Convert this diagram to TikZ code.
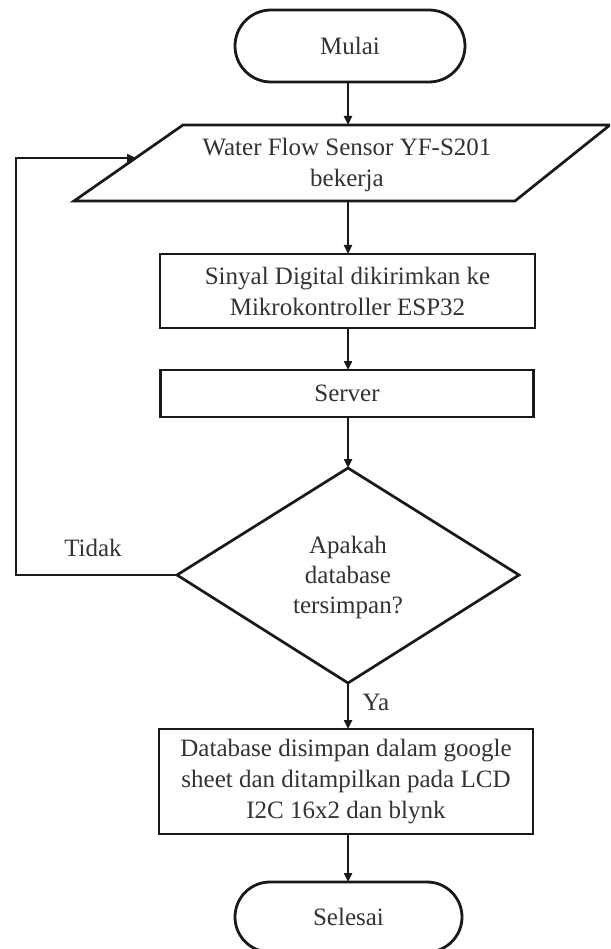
\documentclass[tikz,border=0pt]{standalone}
\usepackage{fontspec}
\setmainfont{Liberation Serif}
\usetikzlibrary{shapes.misc,arrows.meta}
\begin{document}
\begin{tikzpicture}[x=1pt,y=-1pt,
  line/.style={line width=2.7pt, draw=black!90, line join=miter},
  arr/.style={line width=2.4pt, draw=black!90, -{Triangle[length=9pt,width=8pt]}},
  txt/.style={font=\fontsize{25}{31}\selectfont, text=black!80, align=center, inner sep=0pt},
  box/.style={txt, draw=black!90, line width=2.8pt, outer sep=0pt},
  term/.style={box, rounded rectangle}]
\useasboundingbox (0,0) rectangle (610,949);
\clip (0,0) rectangle (610,949);
\fill[white] (0,0) rectangle (610,949);

% terminator start
\node[term, minimum width=230pt, minimum height=72pt] (start) at (350,46) {Mulai};

% parallelogram
\coordinate (pTL) at (183,125);
\coordinate (pTR) at (610,125);
\coordinate (pBR) at (515,201);
\coordinate (pBL) at (74,201);
\draw[line] (pTL) -- (pTR) -- (pBR) -- (pBL) -- cycle;
\node[txt] (para) at (347,165) {Water Flow Sensor YF-S201\\bekerja};
\coordinate (pIn) at (348,125);
\coordinate (pOut) at (348,201);
\coordinate (loopIn) at (136,158);

% process boxes
\node[box, minimum width=375pt, minimum height=74pt] (sinyal) at (347.5,291)
  {Sinyal Digital dikirimkan ke\\Mikrokontroller ESP32};
\node[box, minimum width=373pt, minimum height=47pt] (server) at (347,393.5) {Server};

% decision
\coordinate (dT) at (348,468);
\coordinate (dL) at (177,575);
\coordinate (dR) at (519,575);
\coordinate (dB) at (348,683);
\draw[line] (dT) -- (dR) -- (dB) -- (dL) -- cycle;
\node[txt, font=\fontsize{25}{30}\selectfont] (dec) at (348,577) {Apakah\\database\\tersimpan?};

\node[box, minimum width=374pt, minimum height=105pt] (final) at (346,781.5)
  {Database disimpan dalam google\\sheet dan ditampilkan pada LCD\\I2C 16x2 dan blynk};

\node[term, minimum width=227pt, minimum height=70pt] (stop) at (348.5,917) {Selesai};

% connectors
\coordinate (lx) at (16,0);
\draw[arr] (start.south -| pIn) -- (pIn);
\draw[arr] (pOut) -- (pOut |- sinyal.north);
\draw[arr] (pOut |- sinyal.south) -- (pOut |- server.north);
\draw[arr] (pOut |- server.south) -- (dT);
\draw[arr] (dB) -- (dB |- final.north);
\draw[arr] (dB |- final.south) -- (dB |- stop.north);
\draw[arr] (dL) -- (dL -| lx) |- (loopIn);

% labels
\node[txt] (tidak) at (93,548) {Tidak};
\node[txt] (ya) at (376,702) {Ya};
\end{tikzpicture}
\end{document}
